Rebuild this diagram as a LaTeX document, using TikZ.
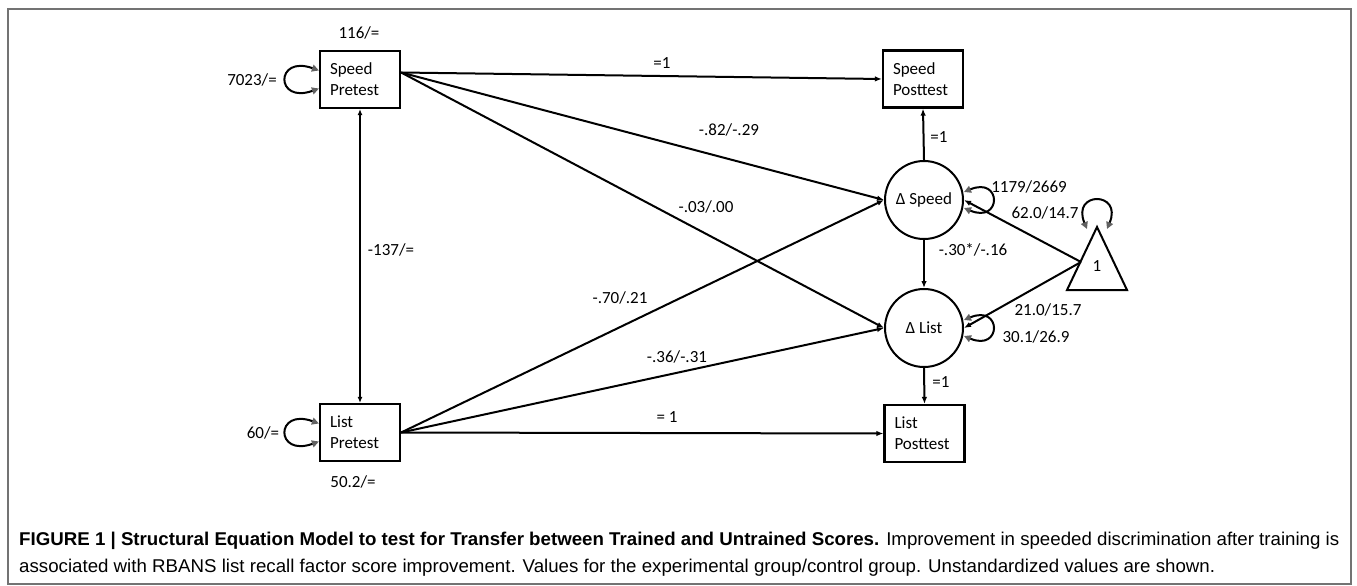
\documentclass[tikz,border=0pt]{standalone}
\usepackage{fontspec}
\usepackage{graphicx}
\setmainfont{Carlito}
\newfontfamily\capfont{Liberation Sans}
\usetikzlibrary{arrows.meta}
\begin{document}
\begin{tikzpicture}[x=1pt,y=-1pt,
  every node/.style={font=\fontsize{17}{21}\selectfont, inner sep=0pt},
  varbox/.style={draw, line width=2.2pt, minimum width=80pt, minimum height=57pt,
    text width=60pt, align=left},
  latent/.style={draw, circle, line width=2pt, minimum size=78pt},
  arr/.style={line width=2pt, -{Latex[length=7pt,width=5.5pt]}},
  dblarr/.style={line width=1.3pt, {Latex[length=6pt,width=5pt]}-{Latex[length=6pt,width=5pt]}},
  selfloop/.style={line width=2pt,
    {Triangle[length=7pt,width=7pt,color=black!62]}-{Triangle[length=7pt,width=7pt,color=black!62]}},
  lbl/.style={}
]
\useasboundingbox (0,0) rectangle (1357,586);
\draw[line width=1.5pt, black!55] (8,9) rectangle (1351,584);

% observed variables
\node[varbox] (sp)  at (360,79.5) {Speed\\Pretest};
\node[varbox] (lp)  at (360,432.5) {List\\Pretest};
\node[varbox] (spo) at (923,79) {Speed\\Posttest};
\node[varbox] (lpo) at (924.5,433.5) {List\\Posttest};

% latent change scores
\node[latent] (ds) at (924,200) {Δ Speed};
\node[latent] (dl) at (924,328) {Δ List};

% constant triangle
\coordinate (tA) at (1097,227);
\coordinate (tL) at (1067,290);
\coordinate (tR) at (1127,290);
\draw[line width=2pt, line join=miter] (tA) -- (tL) -- (tR) -- cycle;
\node (one) at (1097,266) {1};
\coordinate (tS) at (1081,262);

% start point of the paths leaving Speed Pretest
\coordinate (spR) at ([yshift=7pt]sp.east);

% regressions
\draw[arr] (spR) -- (spo.west);
\draw[arr] (spR) -- (ds.west);
\draw[arr] (spR) -- (dl.west);
\draw[arr] (lp.east) -- (ds.west);
\draw[arr] (lp.east) -- (dl.west);
\draw[arr] (lp.east) -- (lpo.west);
\draw[arr] (ds.north) -- (spo.south);
\draw[arr] (ds.south) -- (dl.north);
\draw[arr] (dl.south) -- (lpo.north);
\draw[arr] (tS) -- (ds.east);
\draw[arr] (tS) -- (dl.east);

% covariance
\draw[dblarr] (sp.south) -- (lp.north);

% variances
\draw[selfloop] ([yshift=9pt]sp.west) .. controls +(-44,-16) and +(-44,16) .. ([yshift=-9pt]sp.west);
\draw[selfloop] ([yshift=9pt]lp.west) .. controls +(-44,-16) and +(-44,16) .. ([yshift=-9pt]lp.west);
\draw[selfloop] ([yshift=8pt]ds.east) .. controls +(38,-16) and +(38,16) .. ([yshift=-8pt]ds.east);
\draw[selfloop] ([yshift=8pt]dl.east) .. controls +(38,-16) and +(38,16) .. ([yshift=-8pt]dl.east);
\draw[selfloop] ([xshift=-10pt,yshift=-2pt]tA) .. controls +(-16,-38) and +(16,-38) .. ([xshift=10pt,yshift=-2pt]tA);

% labels
\node[lbl] (l1)  at (359,33)   {116/=};
\node[lbl] (l2)  at (252,80)   {7023/=};
\node[lbl] (l3)  at (263,433)  {60/=};
\node[lbl] (l4)  at (353,482)  {50.2/=};
\node[lbl] (l5)  at (391,250)  {-137/=};
\node[lbl] (l6)  at (662,63)   {=1};
\node[lbl] (l7)  at (729,130)  {-.82/-.29};
\node[lbl] (l8)  at (706,207)  {-.03/.00};
\node[lbl] (l9)  at (620,298)  {-.70/.21};
\node[lbl] (l10) at (677,357)  {-.36/-.31};
\node[lbl] (l11) at (667,417)  {= 1};
\node[lbl] (l12) at (939,137)  {=1};
\node[lbl] (l13) at (1029,187) {1179/2669};
\node[lbl] (l14) at (1045,213) {62.0/14.7};
\node[lbl] (l15) at (973,250)  {-.30*/-.16};
\node[lbl] (l16) at (1048,310) {21.0/15.7};
\node[lbl] (l17) at (1036,337) {30.1/26.9};
\node[lbl] (l18) at (941,382)  {=1};

% caption
\node[anchor=north west, font=\capfont\fontsize{18.5}{27}\selectfont] (cap) at (19,526)
  {\resizebox{1320pt}{\height}{\begin{tabular}{@{}l@{}}\textbf{FIGURE 1 | Structural Equation Model to test for Transfer between Trained and Untrained Scores.} Improvement in speeded discrimination after training is\\
  associated with RBANS list recall factor score improvement. Values for the experimental group/control group. Unstandardized values are shown.\end{tabular}}};
\end{tikzpicture}
\end{document}
